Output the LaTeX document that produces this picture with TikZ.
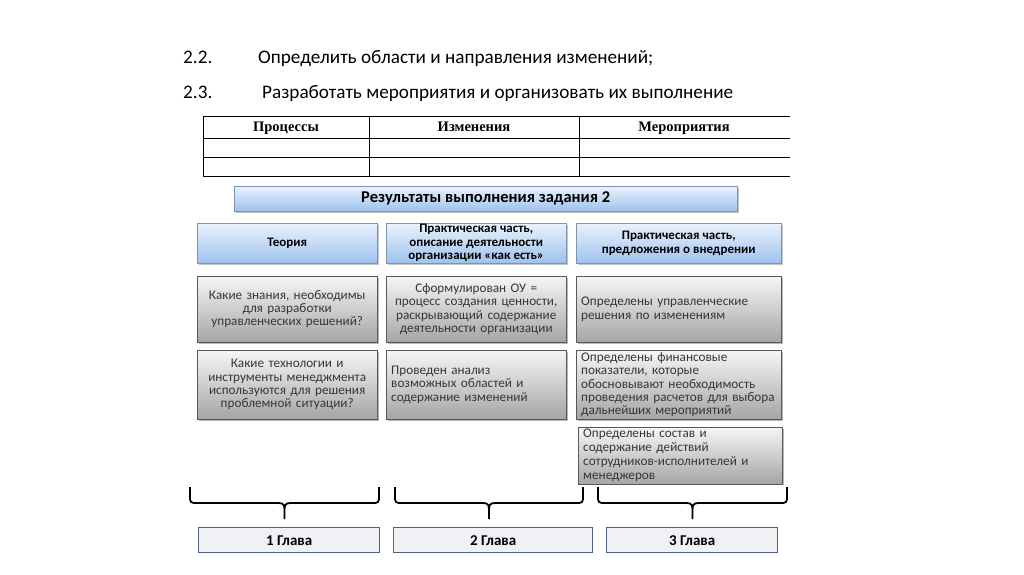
\documentclass[tikz,border=0pt]{standalone}
\usepackage{fontspec}
\setmainfont{Carlito}
\newfontfamily\tablefont{Liberation Serif}
\usetikzlibrary{shadows}
\definecolor{hdrtop}{RGB}{234,242,252}
\definecolor{hdrbot}{RGB}{158,194,238}
\definecolor{hdredge}{RGB}{128,148,178}
\definecolor{celltop}{RGB}{246,246,246}
\definecolor{cellbot}{RGB}{165,165,165}
\definecolor{celledge}{RGB}{88,88,88}
\definecolor{celltext}{RGB}{55,55,55}
\definecolor{glavafill}{RGB}{240,241,244}
\definecolor{glavaedge}{RGB}{82,100,130}

\begin{document}
\begin{tikzpicture}[x=1pt,y=-1pt,
  headline/.style={anchor=base west, inner sep=0pt, font=\fontsize{19.2}{21}\selectfont},
  tabline/.style={line width=0.8pt},
  tablehead/.style={anchor=base, inner sep=0pt, font=\tablefont\fontsize{14.5}{16}\selectfont\bfseries},
  hdrbox/.style={draw=hdredge, top color=hdrtop, bottom color=hdrbot, anchor=north west,
    inner sep=1pt, align=center, font=\fontsize{13}{13.6}\selectfont\bfseries,
    drop shadow={shadow xshift=1.5pt, shadow yshift=-1.5pt, opacity=0.45}},
  cellbox/.style={draw=celledge, top color=celltop, bottom color=cellbot, anchor=north west,
    inner xsep=5pt, inner ysep=2pt, text=celltext, font=\fontsize{13.2}{13.3}\selectfont,
    drop shadow={shadow xshift=1.5pt, shadow yshift=-1.5pt, opacity=0.55}},
  glavabox/.style={draw=glavaedge, line width=1.4pt, fill=glavafill, anchor=north west,
    font=\fontsize{15}{17}\selectfont\bfseries},
  chapbrace/.style={line width=1.8pt, line join=round}]
  \useasboundingbox (0,0) rectangle (1024,574);
  \fill[white] (0,0) rectangle (1024,574);

  % task items
  \node[headline] (num22) at (183,63) {2.2.};
  \node[headline] (item22) at (258,63) {Определить области и направления изменений;};
  \node[headline] (num23) at (183,98) {2.3.};
  \node[headline] (item23) at (262,98) {Разработать мероприятия и организовать их выполнение};

  % table
  \foreach \y in {116,138,157,176}
    \draw[tabline] (203,\y) -- (790,\y);
  \foreach \x in {203,369,579}
    \draw[tabline] (\x,116) -- (\x,176);
  \node[tablehead] (procs) at (286,131) {Процессы};
  \node[tablehead] (changes) at (474,131) {Изменения};
  \node[tablehead] (actions) at (684,131) {Мероприятия};

  % results
  \node[hdrbox, minimum width=503pt, minimum height=25pt, font=\fontsize{16.5}{18}\selectfont\bfseries]
    (results) at (234,186) {Результаты выполнения задания 2};

  % column headers
  \node[hdrbox, minimum width=180pt, minimum height=40pt] (theory) at (197,223) {Теория};
  \node[hdrbox, minimum width=180pt, minimum height=40pt] (asis) at (386,223)
    {Практическая часть,\\описание деятельности\\организации «как есть»};
  \node[hdrbox, minimum width=205pt, minimum height=40pt] (tobe) at (576,223)
    {Практическая часть,\\предложения о внедрении};

  % theory column
  \node[cellbox, minimum width=180pt, minimum height=66pt, text width=170pt, align=center]
    (know) at (197,276) {Какие знания, необходимы\\для разработки\\управленческих решений?};
  \node[cellbox, minimum width=180pt, minimum height=69pt, text width=170pt, align=center]
    (tools) at (197,350) {Какие технологии и\\инструменты менеджмента\\используются для решения\\проблемной ситуации?};

  % as-is column
  \node[cellbox, minimum width=180pt, minimum height=66pt, text width=170pt, align=center]
    (model) at (386,276) {Сформулирован ОУ =\\процесс создания ценности,\\раскрывающий содержание\\деятельности организации};
  \node[cellbox, minimum width=180pt, minimum height=69pt, text width=170pt, align=left]
    (analysis) at (386,350) {Проведен анализ\\возможных областей и\\содержание изменений};

  % to-be column
  \node[cellbox, minimum width=205pt, minimum height=66pt, text width=195pt, align=left]
    (decisions) at (576,276) {Определены управленческие\\решения по изменениям};
  \node[cellbox, minimum width=205pt, minimum height=69pt, text width=195pt, align=left]
    (finance) at (576,350) {Определены финансовые\\показатели, которые\\обосновывают необходимость\\проведения расчетов для выбора\\дальнейших мероприятий};
  \node[cellbox, minimum width=204pt, minimum height=53pt, text width=194pt, align=left,
    font=\fontsize{13.2}{14}\selectfont]
    (staff) at (578,427) {Определены состав и\\содержание действий\\сотрудников-исполнителей и\\менеджеров};

  % chapters
  \foreach \a/\c/\b in {190/284.5/379, 395/489/583, 598/692.5/787}
    \draw[chapbrace] (\a,487) -- (\a,495) .. controls (\a,503) .. (\a+8,503) -- (\c-6,503)
      .. controls (\c-1,503) and (\c,505) .. (\c,510) -- (\c,519)
      (\c,510) .. controls (\c,505) and (\c+1,503) .. (\c+6,503) -- (\b-8,503)
      .. controls (\b,503) .. (\b,495) -- (\b,487);
  \node[glavabox, minimum width=181pt, minimum height=25pt] (ch1) at (198,527) {1 Глава};
  \node[glavabox, minimum width=199pt, minimum height=25pt] (ch2) at (393,527) {2 Глава};
  \node[glavabox, minimum width=171pt, minimum height=25pt] (ch3) at (606,527) {3 Глава};
\end{tikzpicture}
\end{document}
